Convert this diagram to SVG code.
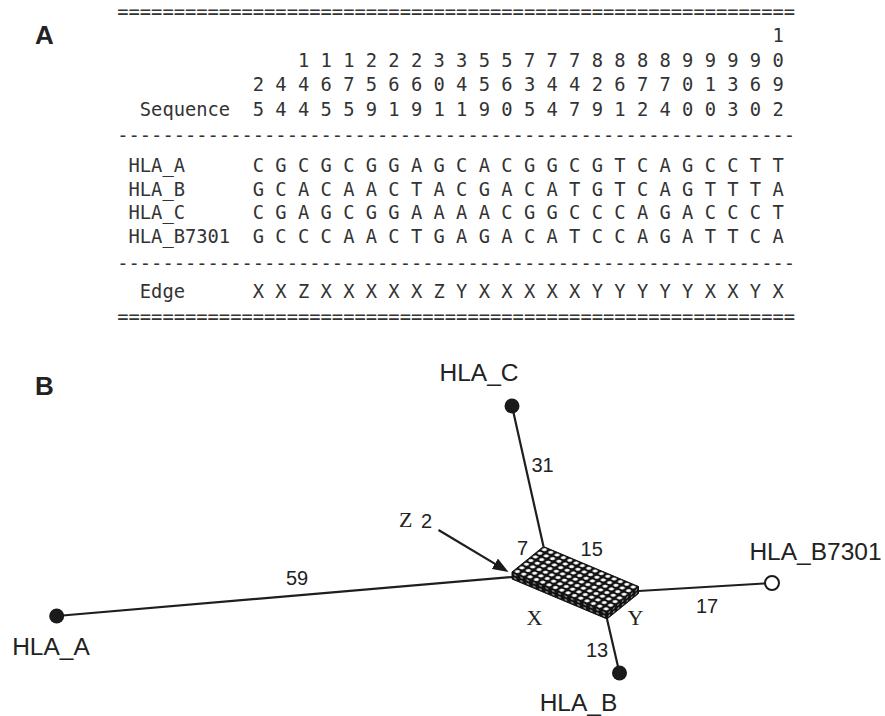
<svg xmlns="http://www.w3.org/2000/svg" width="885" height="716" viewBox="0 0 885 716" xml:space="preserve">
<style>
.tbl{font-family:"DejaVu Sans Mono","Liberation Mono",monospace;font-size:18.77px;fill:#333;white-space:pre}
.panel{font-family:"Liberation Sans",Arial,sans-serif;font-weight:bold;font-size:26px;fill:#222}
.lbl{font-family:"Liberation Sans",Arial,sans-serif;font-size:24.5px;fill:#222}
.num{font-family:"Liberation Sans",Arial,sans-serif;font-size:20px;fill:#222}
.serif{font-family:"Liberation Serif","Times New Roman",serif;font-size:22px;fill:#222}
.edge{stroke:#1e1e1e;stroke-width:2.2;fill:none}
.dot{fill:#1a1a1a}
.open{fill:#fff;stroke:#1a1a1a;stroke-width:2}
.face{stroke:#111;stroke-width:1;stroke-linejoin:round}
</style>
<defs>
<pattern id="gridTop" patternUnits="userSpaceOnUse" width="10" height="10" patternTransform="matrix(0.63333 0.26667 0.45 -0.36429 512 572)">
<rect width="10" height="10" fill="#111"/>
<circle cx="5" cy="5" r="3.3" fill="#fff"/>
</pattern>
<pattern id="gridLong" patternUnits="userSpaceOnUse" width="10" height="10" patternTransform="matrix(0.63333 0.26667 0 0.35 512 572)">
<rect width="10" height="10" fill="#111"/>
<circle cx="5" cy="5" r="2.4" fill="#8a8a8a"/>
</pattern>
<pattern id="gridShort" patternUnits="userSpaceOnUse" width="10" height="10" patternTransform="matrix(0.45 -0.36429 0 0.35 607 612)">
<rect width="10" height="10" fill="#111"/>
<circle cx="5" cy="5" r="2.4" fill="#8a8a8a"/>
</pattern>
<marker id="arrow" markerUnits="userSpaceOnUse" markerWidth="16" markerHeight="12" viewBox="0 0 16 12" refX="12" refY="6" orient="auto">
<path d="M0,0 L16,6 L0,12 Z" fill="#1a1a1a"/>
</marker>
</defs>
<rect width="885" height="716" fill="#fff"/>

<text id="label-A" class="panel" x="35" y="44">A</text>

<g id="table">
<text class="tbl" x="117.2" y="18.2">============================================================</text>
<text class="tbl" x="117.2" y="42.3">                                                          1</text>
<text class="tbl" x="117.2" y="66.8">                1 1 1 2 2 2 3 3 5 5 7 7 7 8 8 8 8 9 9 9 9 0</text>
<text class="tbl" x="117.2" y="91.3">            2 4 4 6 7 5 6 6 0 4 5 6 3 4 4 2 6 7 7 0 1 3 6 9</text>
<text class="tbl" x="117.2" y="115.8">  Sequence  5 4 4 5 5 9 1 9 1 1 9 0 5 4 7 9 1 2 4 0 0 3 0 2</text>
<text class="tbl" x="117.2" y="142.2">------------------------------------------------------------</text>
<text class="tbl" x="117.2" y="172.3"> HLA_A      C G C G C G G A G C A C G G C G T C A G C C T T</text>
<text class="tbl" x="117.2" y="195.8"> HLA_B      G C A C A A C T A C G A C A T G T C A G T T T A</text>
<text class="tbl" x="117.2" y="219.3"> HLA_C      C G A G C G G A A A A C G G C C C A G A C C C T</text>
<text class="tbl" x="117.2" y="242.8"> HLA_B7301  G C C C A A C T G A G A C A T C C A G A T T C A</text>
<text class="tbl" x="117.2" y="270.0">------------------------------------------------------------</text>
<text class="tbl" x="117.2" y="297.6">  Edge      X X Z X X X X X Z Y X X X X X Y Y Y Y Y X X Y X</text>
<text class="tbl" x="117.2" y="323.0">============================================================</text>
</g>

<text id="label-B" class="panel" x="35" y="395">B</text>

<g id="connectors">
<line class="edge" x1="56.7" y1="616" x2="512" y2="577"/>
<line class="edge" x1="512" y1="406" x2="543.5" y2="546.5"/>
<line class="edge" x1="638.5" y1="591" x2="772" y2="583"/>
<line class="edge" x1="607" y1="619" x2="619.5" y2="673"/>
<line class="edge" x1="438.5" y1="530" x2="505.1" y2="569.9" stroke-width="2.4" marker-end="url(#arrow)"/>
<text class="num" x="297" y="585" text-anchor="middle">59</text>
<text class="num" x="542.5" y="471.5" text-anchor="middle">31</text>
<text class="num" x="522.5" y="555" text-anchor="middle">7</text>
<text class="num" x="591.7" y="556" text-anchor="middle">15</text>
<text class="num" x="707" y="613" text-anchor="middle">17</text>
<text class="num" x="597" y="657" text-anchor="middle">13</text>
<text class="serif" x="399" y="527">Z</text>
<text class="num" x="421" y="528" font-size="18px">2</text>
<text class="serif" x="526.5" y="625">X</text>
<text class="serif" x="627.5" y="625">Y</text>
</g>

<g id="node-box">
<path class="face" d="M512,572 L607,612 L607,619 L512,579 Z" fill="url(#gridLong)"/>
<path class="face" d="M607,612 L638.5,586.5 L638.5,593.5 L607,619 Z" fill="url(#gridShort)"/>
<path class="face" d="M512,572 L607,612 L638.5,586.5 L543.5,546.5 Z" fill="url(#gridTop)"/>
</g>

<g id="node-HLA_A">
<circle class="dot" cx="56.7" cy="616" r="7.5"/>
<text class="lbl" x="51" y="655" text-anchor="middle">HLA_A</text>
</g>
<g id="node-HLA_C">
<circle class="dot" cx="512" cy="406" r="7.5"/>
<text class="lbl" x="479" y="380.5" text-anchor="middle">HLA_C</text>
</g>
<g id="node-HLA_B7301">
<circle class="open" cx="772" cy="583" r="7"/>
<text class="lbl" x="815.5" y="560" text-anchor="middle">HLA_B7301</text>
</g>
<g id="node-HLA_B">
<circle class="dot" cx="619.5" cy="673" r="7.5"/>
<text class="lbl" x="578.5" y="711" text-anchor="middle">HLA_B</text>
</g>
</svg>
